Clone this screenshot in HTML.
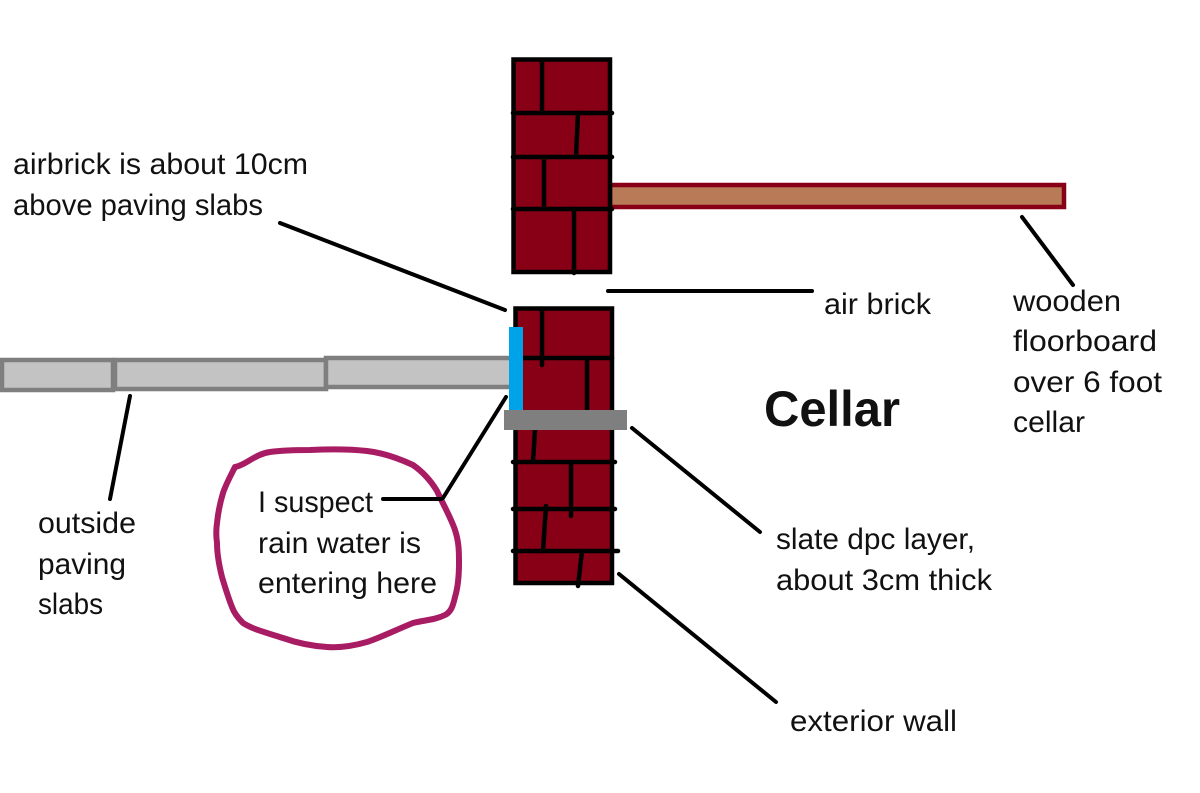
<!DOCTYPE html>
<html>
<head>
<meta charset="utf-8">
<style>
html,body{margin:0;padding:0;background:#fff;width:1200px;height:793px;overflow:hidden}
svg{display:block}
text{font-family:"Liberation Sans",sans-serif;font-size:29.5px;fill:#111}
</style>
</head>
<body>
<svg width="1200" height="793" viewBox="0 0 1200 793" xmlns="http://www.w3.org/2000/svg">
<rect width="1200" height="793" fill="#fff"/>

<!-- floorboard -->
<rect x="610" y="185" width="454" height="22" fill="#b97a57" stroke="#880015" stroke-width="4.5"/>

<!-- upper wall -->
<rect x="513.5" y="59.5" width="96.5" height="212.5" fill="#880015" stroke="#000" stroke-width="4.5"/>
<g stroke="#000" stroke-width="4.5" stroke-linecap="round" fill="none">
<path d="M513 113H612M513 157H612M513 209H612"/>
<path d="M542 60V113M578 113L576 157M544 157V209M574 209V273"/>
</g>

<!-- lower wall -->
<rect x="515.5" y="308.5" width="96.5" height="274.5" fill="#880015" stroke="#000" stroke-width="4.5"/>
<g stroke="#000" stroke-width="4.5" stroke-linecap="round" fill="none">
<path d="M515 358H612M513 462H615M513 509H615M513 551H618"/>
<path d="M542 310V365M587 358V410M535 430L533 462M571 462V516M546 506L543 551M582 551L578 586"/>
</g>

<!-- paving slabs -->
<rect x="2" y="360" width="111" height="30" fill="#c3c3c3" stroke="#7f7f7f" stroke-width="4.5"/>
<rect x="115" y="360" width="211" height="29" fill="#c3c3c3" stroke="#7f7f7f" stroke-width="4.5"/>
<rect x="326" y="358" width="190" height="29" fill="#c3c3c3" stroke="#7f7f7f" stroke-width="4.5"/>

<!-- air brick / water path -->
<rect x="509" y="327" width="14" height="86" fill="#00a2e8"/>
<!-- slate -->
<rect x="504" y="410" width="123" height="20" fill="#7f7f7f"/>

<!-- blob -->
<path d="M235 467C246 465 255 454 270 452C285 450 300 450 310 450C330 449 350 449 367 451C385 453 400 459 413 465C423 472 431 481 437 491C443 504 451 518 455 530C459 542 459 552 459 563C459 575 458 587 455 597C453 606 451 612 445 615C435 620 425 620 413 623C398 629 382 637 367 642C353 646 340 648 327 647C312 646 297 643 283 638C268 633 254 630 243 623C238 618 234 613 232 607C228 597 225 587 222 577C219 565 217 555 217 543C216 536 216 530 217 523C218 513 220 503 223 493C226 484 231 475 235 467Z" fill="none" stroke="#a81c64" stroke-width="6" stroke-linejoin="round"/>

<!-- leader lines -->
<g stroke="#000" stroke-width="4" stroke-linecap="round" fill="none">
<path d="M280 223L505 310"/>
<path d="M608 291H812"/>
<path d="M1022 217L1073 285"/>
<path d="M632 428L760 532"/>
<path d="M619 574L776 702"/>
<path d="M130 396L110 499"/>
<path d="M383 499H441"/>
<path d="M443 498L506 397"/>
</g>

<!-- labels -->
<text x="13" y="174" textLength="295" lengthAdjust="spacingAndGlyphs">airbrick is about 10cm</text>
<text x="13" y="215" textLength="250" lengthAdjust="spacingAndGlyphs">above paving slabs</text>
<text x="824" y="314" textLength="107" lengthAdjust="spacingAndGlyphs">air brick</text>
<text x="1013" y="311" textLength="108" lengthAdjust="spacingAndGlyphs">wooden</text>
<text x="1013" y="351" textLength="144" lengthAdjust="spacingAndGlyphs">floorboard</text>
<text x="1013" y="392" textLength="149" lengthAdjust="spacingAndGlyphs">over 6 foot</text>
<text x="1013" y="432" textLength="72" lengthAdjust="spacingAndGlyphs">cellar</text>
<text x="764" y="426" textLength="136" lengthAdjust="spacingAndGlyphs" style="font-size:50px;font-weight:bold">Cellar</text>
<text x="776" y="549" textLength="199" lengthAdjust="spacingAndGlyphs">slate dpc layer,</text>
<text x="776" y="590" textLength="216" lengthAdjust="spacingAndGlyphs">about 3cm thick</text>
<text x="790" y="731" textLength="167" lengthAdjust="spacingAndGlyphs">exterior wall</text>
<text x="38" y="533" textLength="98" lengthAdjust="spacingAndGlyphs">outside</text>
<text x="38" y="574" textLength="88" lengthAdjust="spacingAndGlyphs">paving</text>
<text x="38" y="614" textLength="65" lengthAdjust="spacingAndGlyphs">slabs</text>
<text x="258" y="512" textLength="115" lengthAdjust="spacingAndGlyphs">I suspect</text>
<text x="258" y="553" textLength="163" lengthAdjust="spacingAndGlyphs">rain water is</text>
<text x="258" y="593" textLength="179" lengthAdjust="spacingAndGlyphs">entering here</text>
</svg>
</body>
</html>
